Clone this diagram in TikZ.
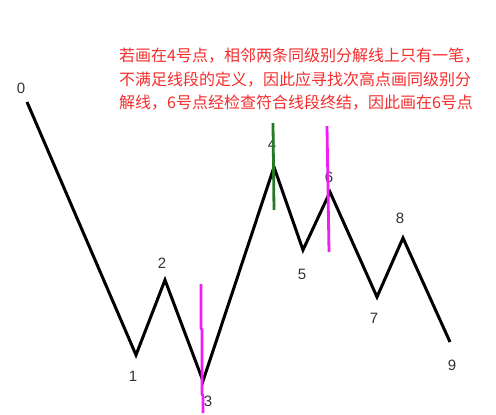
\documentclass[tikz,border=0pt]{standalone}
\usepackage{fontspec}
\setmainfont{Liberation Sans}
\newfontfamily\cjk{Noto Sans CJK SC}
\definecolor{note}{RGB}{245,45,45}
\definecolor{lbl}{RGB}{50,50,50}
\definecolor{mag}{RGB}{240,30,240}
\definecolor{grn}{RGB}{40,120,40}
\begin{document}
\begin{tikzpicture}[x=1pt,y=-1pt,
  wave/.style={line width=3pt,black,line join=miter},
  ptlabel/.style={font=\fontsize{15}{15}\selectfont,text=lbl,inner sep=0pt},
  notetext/.style={font=\cjk\fontsize{16}{16}\selectfont,text=note,inner sep=0pt,anchor=west},
  magline/.style={line width=2.8pt,mag},
  grnline/.style={line width=2.8pt,grn}]
\useasboundingbox (0,0) rectangle (496,415);
\fill[white] (0,0) rectangle (496,415);
% wave points
\coordinate (p0) at (27,102);
\coordinate (p1) at (136,355);
\coordinate (p2) at (165,280);
\coordinate (p3) at (203,381);
\coordinate (p4) at (274,167);
\coordinate (p5) at (303,250);
\coordinate (p6) at (330,192);
\coordinate (p7) at (377,297);
\coordinate (p8) at (403,238);
\coordinate (p9) at (450,342);
\draw[wave] (p0) -- (p1) -- (p2) -- (p3) -- (p4) -- (p5) -- (p6) -- (p7) -- (p8) -- (p9);
% labels
\node[ptlabel] (l0) at (21,88) {0};
\node[ptlabel] (l1) at (133,376) {1};
\node[ptlabel] (l2) at (162,263) {2};
\node[ptlabel] (l3) at (208,401) {3};
\node[ptlabel] (l4) at (272,144) {4};
\node[ptlabel] (l5) at (302,274) {5};
\node[ptlabel] (l6) at (329,177) {6};
\node[ptlabel] (l7) at (374,318) {7};
\node[ptlabel] (l8) at (400,218) {8};
\node[ptlabel] (l9) at (452,365) {9};
% division lines
\coordinate (g1) at (273,123);
\coordinate (g2) at (274,210);
\draw[grnline] (g1) -- (g2);
\coordinate (m1) at (327,126);
\coordinate (m2) at (329,252);
\draw[magline] (m1) -- (m2);
\coordinate (n1) at (201,284);
\coordinate (n2) at (203,413);
\draw[magline] (n1) -- (201,328) -- (202,330) -- (202,394) -- (203,396) -- (n2);
% note
\node[notetext] (t1) at (119,56) {若画在4号点，相邻两条同级别分解线上只有一笔，};
\node[notetext] (t2) at (119,80) {不满足线段的定义，因此应寻找次高点画同级别分};
\node[notetext] (t3) at (119,103) {解线，6号点经检查符合线段终结，因此画在6号点};
\end{tikzpicture}
\end{document}
